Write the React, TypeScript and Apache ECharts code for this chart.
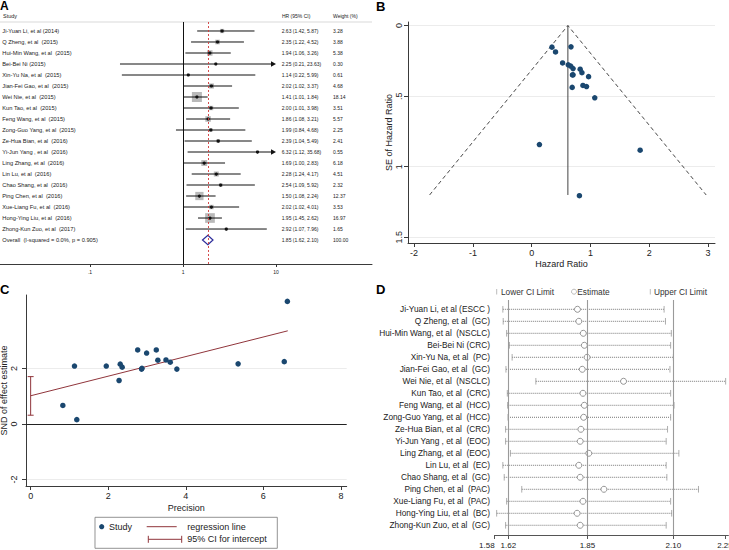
import React, { useEffect, useRef } from "react";
import * as echarts from "echarts";

const FONT = "'Liberation Sans', Arial, Helvetica, sans-serif";
const NAVY = "#1a476f";
const MAROON = "#90353b";
const INK = "#222";

// ---------- A: forest plot ----------
const forestStudies = [
  "Ji-Yuan Li, et al (2014)",
  "Q Zheng, et al  (2015)",
  "Hui-Min Wang, et al  (2015)",
  "Bei-Bei Ni (2015)",
  "Xin-Yu Na, et al  (2015)",
  "Jian-Fei Gao, et al  (2015)",
  "Wei Nie, et al  (2015)",
  "Kun Tao, et al  (2015)",
  "Feng Wang, et al  (2015)",
  "Zong-Guo Yang, et al  (2015)",
  "Ze-Hua Bian, et al  (2016)",
  "Yi-Jun Yang , et al  (2016)",
  "Ling Zhang, et al  (2016)",
  "Lin Lu, et al  (2016)",
  "Chao Shang, et al  (2016)",
  "Ping Chen, et al  (2016)",
  "Xue-Liang Fu, et al  (2016)",
  "Hong-Ying Liu, et al  (2016)",
  "Zhong-Kun Zuo, et al  (2017)",
];
const forestHR = [2.63, 2.35, 1.94, 2.25, 1.14, 2.02, 1.41, 2.0, 1.86, 1.99, 2.39, 6.32, 1.69, 2.28, 2.54, 1.5, 2.02, 1.95, 2.92];
const forestLow = [1.42, 1.22, 1.06, 0.21, 0.22, 1.02, 1.01, 1.01, 1.08, 0.84, 1.04, 1.12, 1.0, 1.24, 1.09, 1.08, 1.02, 1.45, 1.07];
const forestHigh = [5.87, 4.52, 3.26, 23.63, 5.99, 3.37, 1.84, 3.98, 3.21, 4.68, 5.49, 35.68, 2.83, 4.17, 5.92, 2.24, 4.01, 2.62, 7.96];
const forestWeight = [3.28, 3.88, 5.38, 0.3, 0.61, 4.68, 18.14, 3.51, 5.57, 2.25, 2.41, 0.55, 6.18, 4.51, 2.32, 12.37, 3.53, 16.97, 1.65];
const overallLabel = "Overall  (I-squared = 0.0%, p = 0.905)";
const overallHR = 1.85;
const overallLow = 1.62;
const overallHigh = 2.1;
const overallWeight = 100;
const forestTickValues = [0.1, 1, 10];
const forestTickLabels = [".1", "1", "10"];
const forestClip = 10;

// ---------- B: funnel plot ----------
const funnelLogHR = [0.967, 0.854, 0.663, 0.811, 0.131, 0.703, 0.344, 0.693, 0.621, 0.688, 0.871, 1.844, 0.525, 0.824, 0.932, 0.405, 0.703, 0.668, 1.072];
const funnelSE = [0.362, 0.334, 0.287, 1.205, 0.843, 0.305, 0.153, 0.35, 0.278, 0.438, 0.424, 0.883, 0.265, 0.309, 0.432, 0.187, 0.349, 0.151, 0.512];
const funnelPooled = [[0.615, 0], [0.615, 1.2]];
const funnelLimits = [[-1.737, 1.2], [0.615, 0], [2.967, 1.2]];
const funnelSETicks = [0, 0.5, 1, 1.5];
const funnelSELabels = ["0", ".5", "1", "1.5"];
const funnelHRTicks = [-2, -1, 0, 1, 2, 3];

// ---------- C: Egger / Galbraith ----------
const eggerPrecision = [2.76, 2.99, 3.49, 0.83, 1.19, 3.28, 6.54, 2.86, 3.6, 2.28, 2.36, 1.13, 3.77, 3.24, 2.31, 5.35, 2.87, 6.62, 1.95];
const eggerSND = [2.67, 2.56, 2.31, 0.67, 0.16, 2.3, 2.25, 1.98, 2.23, 1.57, 2.05, 2.09, 1.98, 2.67, 2.16, 2.17, 2.01, 4.42, 2.09];
const eggerFit = [[0, 1.02], [6.63, 3.36]];
const eggerInterceptCI = [0.32, 1.71];
const eggerXTicks = [0, 2, 4, 6, 8];
const eggerYTicks = [-2, 0, 2];

// ---------- D: leave-one-out sensitivity ----------
const sensStudies = [
  "Ji-Yuan Li, et al (ESCC )",
  "Q Zheng, et al  (GC)",
  "Hui-Min Wang, et al  (NSCLC)",
  "Bei-Bei Ni (CRC)",
  "Xin-Yu Na, et al  (PC)",
  "Jian-Fei Gao, et al  (GC)",
  "Wei Nie, et al  (NSCLC)",
  "Kun Tao, et al  (CRC)",
  "Feng Wang, et al  (HCC)",
  "Zong-Guo Yang, et al  (HCC)",
  "Ze-Hua Bian, et al  (CRC)",
  "Yi-Jun Yang , et al  (EOC)",
  "Ling Zhang, et al  (EOC)",
  "Lin Lu, et al  (EC)",
  "Chao Shang, et al  (GC)",
  "Ping Chen, et al  (PAC)",
  "Xue-Liang Fu, et al  (PAC)",
  "Hong-Ying Liu, et al  (BC)",
  "Zhong-Kun Zuo, et al  (GC)",
];
const sensLow = [1.604, 1.605, 1.615, 1.623, 1.631, 1.613, 1.7, 1.617, 1.618, 1.619, 1.612, 1.612, 1.626, 1.604, 1.608, 1.659, 1.615, 1.586, 1.612];
const sensEst = [1.821, 1.825, 1.838, 1.841, 1.849, 1.835, 1.955, 1.837, 1.841, 1.839, 1.831, 1.829, 1.854, 1.825, 1.829, 1.898, 1.837, 1.82, 1.829];
const sensHigh = [2.073, 2.077, 2.094, 2.092, 2.1, 2.09, 2.252, 2.092, 2.102, 2.092, 2.083, 2.079, 2.116, 2.079, 2.081, 2.173, 2.092, 2.095, 2.079];
const sensTicks = [1.58, 1.62, 1.85, 2.1, 2.25];
const sensRefLines = [1.62, 1.85, 2.1];

const log10 = Math.log10;
const pick = (ticks: number[], labels: string[], v: number) => {
  const i = ticks.findIndex((t) => Math.abs(t - v) < 1e-6);
  return i >= 0 ? labels[i] : "";
};
const fmtCI = (e: number, l: number, h: number) => `${e.toFixed(2)} (${l.toFixed(2)}, ${h.toFixed(2)})`;

function baseAxis(extra: any) {
  return {
    axisLine: { show: true, onZero: false, lineStyle: { color: "#3a3a3a", width: 1 } },
    axisTick: { show: true, length: 4, lineStyle: { color: "#3a3a3a", width: 1 } },
    splitLine: { show: false },
    ...extra,
  };
}

function buildOption(): any {
  const forestLabels = [...forestStudies, overallLabel];
  const forestCI = forestHR.map((h, i) => fmtCI(h, forestLow[i], forestHigh[i]));
  forestCI.push(fmtCI(overallHR, overallLow, overallHigh));
  const forestW = [...forestWeight, overallWeight].map((w) => w.toFixed(2));
  const forestRows = forestHR.map((h, i) => [log10(h), i, log10(forestLow[i]), log10(forestHigh[i]), forestWeight[i], 0]);
  forestRows.push([log10(overallHR), forestStudies.length, log10(overallLow), log10(overallHigh), overallWeight, 1]);
  const forestTickLogs = forestTickValues.map(log10);

  const txt = (text: string, x: number, y: number, size: number, extra: any = {}) => ({
    type: "text",
    style: { text, x, y, fill: INK, fontSize: size, fontFamily: FONT, align: "left", verticalAlign: "middle", ...extra },
  });

  const labelStyle = (size: number) => ({ fontSize: size, color: INK, fontFamily: FONT });
  const showAll = { showMinLabel: true, showMaxLabel: true, hideOverlap: false };

  // the first tick label of panel D sits right against the second one, so it
  // is carried by a companion axis and set flush left of its tick
  const sensFirstTick = sensTicks.slice(0, 1);
  const sensOtherTicks = sensTicks.slice(1);

  return {
    animation: false,
    backgroundColor: "#fff",
    textStyle: { fontFamily: FONT },
    grid: [
      { left: 0, top: 22, width: 372, height: 242, outerBoundsMode: "none" },
      { left: 408, top: 22, width: 307, height: 221, outerBoundsMode: "none" },
      { left: 26, top: 295, width: 320.7, height: 191, outerBoundsMode: "none" },
      { left: 494.6, top: 300, width: 233.8, height: 235, outerBoundsMode: "none" },
    ],
    xAxis: [
      baseAxis({
        gridIndex: 0,
        type: "value",
        min: -1.968,
        max: 2.032,
        axisTick: { show: true, length: 3, customValues: forestTickLogs, lineStyle: { color: "#333" } },
        axisLabel: {
          customValues: forestTickLogs,
          formatter: (v: number) => pick(forestTickLogs, forestTickLabels, v),
          margin: 5,
          ...showAll,
          ...labelStyle(5),
        },
      }),
      baseAxis({
        gridIndex: 1,
        type: "value",
        min: -2.104,
        max: 3.117,
        axisTick: { show: true, length: 4, customValues: funnelHRTicks, lineStyle: { color: "#3a3a3a" } },
        axisLabel: { customValues: funnelHRTicks, formatter: (v: number) => String(v), margin: 5, ...showAll, ...labelStyle(9) },
        name: "Hazard Ratio",
        nameLocation: "middle",
        nameGap: 16,
        nameTextStyle: labelStyle(9),
      }),
      baseAxis({
        gridIndex: 2,
        type: "value",
        min: -0.12,
        max: 8.15,
        axisTick: { show: true, length: 4, customValues: eggerXTicks, lineStyle: { color: "#3a3a3a" } },
        axisLabel: { customValues: eggerXTicks, formatter: (v: number) => String(v), margin: 5, ...showAll, ...labelStyle(9) },
        name: "Precision",
        nameLocation: "middle",
        nameGap: 17,
        nameTextStyle: labelStyle(9),
      }),
      baseAxis({
        gridIndex: 3,
        type: "value",
        position: "bottom",
        min: 1.58,
        max: 2.26,
        axisLine: { show: true, onZero: false, lineStyle: { color: "#555", width: 1 } },
        axisTick: { show: true, length: 4, customValues: sensTicks, lineStyle: { color: "#555" } },
        axisLabel: { customValues: sensOtherTicks, formatter: (v: number) => v.toFixed(2), margin: 6, ...showAll, ...labelStyle(8) },
      }),
      {
        gridIndex: 3,
        type: "value",
        position: "bottom",
        offset: 0,
        min: 1.58,
        max: 2.26,
        axisLine: { show: false, onZero: false },
        axisTick: { show: false, customValues: sensFirstTick },
        splitLine: { show: false },
        axisLabel: {
          customValues: sensFirstTick,
          formatter: (v: number) => v.toFixed(2),
          margin: 6,
          align: "right",
          ...showAll,
          ...labelStyle(8),
        },
      },
    ],
    yAxis: [
      { gridIndex: 0, type: "value", inverse: true, min: -0.818, max: 21.18, show: false },
      baseAxis({
        gridIndex: 1,
        type: "value",
        inverse: true,
        min: -0.025,
        max: 1.54,
        axisTick: { show: true, length: 4, customValues: funnelSETicks, lineStyle: { color: "#3a3a3a" } },
        axisLabel: {
          customValues: funnelSETicks,
          rotate: 90,
          formatter: (v: number) => pick(funnelSETicks, funnelSELabels, v),
          margin: 5,
          ...showAll,
          ...labelStyle(9),
        },
        splitLine: { show: true, lineStyle: { color: "#ececec", width: 1 } },
        name: "SE of Hazard Ratio",
        nameLocation: "middle",
        nameGap: 15,
        nameTextStyle: labelStyle(9),
      }),
      baseAxis({
        gridIndex: 2,
        type: "value",
        min: -2.23,
        max: 4.65,
        axisTick: { show: true, length: 4, customValues: eggerYTicks, lineStyle: { color: "#3a3a3a" } },
        axisLabel: { customValues: eggerYTicks, rotate: 90, formatter: (v: number) => String(v), margin: 8, ...showAll, ...labelStyle(9) },
        splitLine: { show: true, lineStyle: { color: "#ececec", width: 1 } },
        name: "SND of effect estimate",
        nameLocation: "middle",
        nameGap: 16,
        nameTextStyle: labelStyle(9),
      }),
      {
        gridIndex: 3,
        type: "value",
        inverse: true,
        min: -0.775,
        max: 18.81,
        axisLine: { show: false },
        axisTick: { show: false, customValues: sensStudies.map((_, i) => i) },
        splitLine: { show: false },
        axisLabel: {
          customValues: sensStudies.map((_, i) => i),
          formatter: (v: number) => sensStudies[Math.round(v)] ?? "",
          margin: 4.6,
          ...showAll,
          ...labelStyle(8.3),
        },
      },
    ],
    series: [
      // A: reference lines (null effect and pooled estimate)
      {
        type: "line",
        xAxisIndex: 0,
        yAxisIndex: 0,
        data: [],
        z: 1,
        markLine: {
          silent: true,
          symbol: "none",
          label: { show: false },
          data: [
            { xAxis: 0, lineStyle: { color: "#111", width: 1, type: "solid" } },
            { xAxis: log10(overallHR), lineStyle: { color: "#d03a3a", width: 0.9, type: [2, 2] } },
          ],
        },
      },
      // A: study rows
      {
        type: "custom",
        xAxisIndex: 0,
        yAxisIndex: 0,
        z: 3,
        data: forestRows,
        encode: { x: [0, 2, 3], y: 1 },
        renderItem: (params: any, api: any) => {
          const idx = params.dataIndex;
          const row = api.value(1);
          const y = api.coord([0, row])[1];
          const xEst = api.coord([api.value(0), row])[0];
          const xLo = api.coord([api.value(2), row])[0];
          const clipLog = log10(forestClip);
          const hiLog = api.value(3);
          const clipped = hiLog > clipLog;
          const xHi = api.coord([Math.min(hiLog, clipLog), row])[0];
          const left = params.coordSys.x;
          const children: any[] = [
            txt(forestLabels[idx], left + 2.3, y, 5.7),
            txt(forestCI[idx], left + 281.7, y, 5),
            txt(forestW[idx], left + 333, y, 5),
          ];
          if (api.value(5) === 1) {
            const h = 4.6;
            children.push({
              type: "polygon",
              shape: { points: [[xLo, y], [xEst, y - h], [xHi, y], [xEst, y + h]] },
              style: { fill: "#fff", stroke: "#2c2c9a", lineWidth: 1.2 },
            });
          } else {
            const side = 2.35 * Math.sqrt(api.value(4));
            children.push({
              type: "rect",
              shape: { x: xEst - side / 2, y: y - side / 2, width: side, height: side },
              style: { fill: "#b9b9b9" },
            });
            children.push({
              type: "line",
              shape: { x1: xLo, y1: y, x2: clipped ? xHi - 3 : xHi, y2: y },
              style: { stroke: "#111", lineWidth: 1 },
            });
            if (clipped) {
              children.push({
                type: "polygon",
                shape: { points: [[xHi, y], [xHi - 5, y - 2.8], [xHi - 5, y + 2.8]] },
                style: { fill: "#111" },
              });
            }
            children.push({ type: "circle", shape: { cx: xEst, cy: y, r: 1.6 }, style: { fill: "#111" } });
          }
          return { type: "group", children };
        },
      },
      // B: funnel limits and pooled estimate
      {
        type: "line",
        xAxisIndex: 1,
        yAxisIndex: 1,
        data: funnelLimits,
        symbol: "none",
        lineStyle: { color: "#333", width: 0.9, type: [4, 3] },
        z: 2,
      },
      {
        type: "line",
        xAxisIndex: 1,
        yAxisIndex: 1,
        data: funnelPooled,
        symbol: "none",
        lineStyle: { color: "#444", width: 1 },
        z: 2,
      },
      {
        type: "scatter",
        xAxisIndex: 1,
        yAxisIndex: 1,
        data: funnelLogHR.map((v, i) => [v, funnelSE[i]]),
        symbolSize: 5.5,
        itemStyle: { color: NAVY, opacity: 1 },
        z: 3,
      },
      // C: zero line, regression line, intercept CI, studies
      {
        type: "line",
        xAxisIndex: 2,
        yAxisIndex: 2,
        data: [],
        z: 1,
        markLine: {
          silent: true,
          symbol: "none",
          label: { show: false },
          data: [{ yAxis: 0, lineStyle: { color: "#222", width: 1, type: "solid" } }],
        },
      },
      {
        type: "line",
        xAxisIndex: 2,
        yAxisIndex: 2,
        data: eggerFit,
        symbol: "none",
        lineStyle: { color: MAROON, width: 1 },
        z: 2,
      },
      {
        type: "custom",
        xAxisIndex: 2,
        yAxisIndex: 2,
        data: [[0, eggerInterceptCI[0], eggerInterceptCI[1]]],
        encode: { x: 0, y: [1, 2] },
        z: 2,
        renderItem: (_params: any, api: any) => {
          const [x, yLo] = api.coord([api.value(0), api.value(1)]);
          const yHi = api.coord([api.value(0), api.value(2)])[1];
          const st = { stroke: MAROON, lineWidth: 1 };
          return {
            type: "group",
            children: [
              { type: "line", shape: { x1: x, y1: yLo, x2: x, y2: yHi }, style: st },
              { type: "line", shape: { x1: x - 3, y1: yLo, x2: x + 3, y2: yLo }, style: st },
              { type: "line", shape: { x1: x - 3, y1: yHi, x2: x + 3, y2: yHi }, style: st },
            ],
          };
        },
      },
      {
        type: "scatter",
        xAxisIndex: 2,
        yAxisIndex: 2,
        data: eggerPrecision.map((p, i) => [p, eggerSND[i]]),
        symbolSize: 5.5,
        itemStyle: { color: NAVY, opacity: 1 },
        z: 3,
      },
      // D: reference lines and leave-one-out intervals
      {
        type: "line",
        xAxisIndex: 3,
        yAxisIndex: 3,
        data: [],
        z: 1,
        markLine: {
          silent: true,
          symbol: "none",
          label: { show: false },
          data: sensRefLines.map((v) => ({ xAxis: v })),
          lineStyle: { color: "#9a9a9a", width: 1.1, type: "solid" },
        },
      },
      {
        type: "custom",
        xAxisIndex: 3,
        yAxisIndex: 3,
        z: 3,
        data: sensEst.map((e, i) => [e, i, sensLow[i], sensHigh[i]]),
        encode: { x: [0, 2, 3], y: 1 },
        renderItem: (_params: any, api: any) => {
          const row = api.value(1);
          const [xe, y] = api.coord([api.value(0), row]);
          const xl = api.coord([api.value(2), row])[0];
          const xh = api.coord([api.value(3), row])[0];
          const cap = { stroke: "#999", lineWidth: 0.8 };
          return {
            type: "group",
            children: [
              { type: "line", shape: { x1: xl, y1: y, x2: xh, y2: y }, style: { stroke: "#777", lineWidth: 1, lineDash: [1, 1] } },
              { type: "line", shape: { x1: xl, y1: y - 3.3, x2: xl, y2: y + 3.3 }, style: cap },
              { type: "line", shape: { x1: xh, y1: y - 3.3, x2: xh, y2: y + 3.3 }, style: cap },
              { type: "circle", shape: { cx: xe, cy: y, r: 3 }, style: { fill: "#fff", stroke: "#888", lineWidth: 0.9 } },
            ],
          };
        },
      },
    ],
    graphic: [
      // panel letters
      { type: "text", x: 0, y: 0, style: { text: "A", fontSize: 12, fontWeight: "bold", fill: "#000", fontFamily: FONT } },
      { type: "text", x: 376, y: 0, style: { text: "B", fontSize: 13, fontWeight: "bold", fill: "#000", fontFamily: FONT } },
      { type: "text", x: 0, y: 283, style: { text: "C", fontSize: 13, fontWeight: "bold", fill: "#000", fontFamily: FONT } },
      { type: "text", x: 376, y: 283, style: { text: "D", fontSize: 13, fontWeight: "bold", fill: "#000", fontFamily: FONT } },
      // A header
      txt("Study", 3, 15.7, 5.5),
      txt("HR (95% CI)", 282, 15.7, 5),
      txt("Weight (%)", 333, 15.7, 5),
      { type: "line", shape: { x1: 0, y1: 22, x2: 372, y2: 22 }, style: { stroke: "#cfcfcf", lineWidth: 0.8 } },
      // C legend
      { type: "rect", shape: { x: 95, y: 517.3, width: 182.3, height: 31 }, style: { fill: "#fff", stroke: "#777", lineWidth: 0.8 } },
      { type: "circle", shape: { cx: 101.7, cy: 526.7, r: 2.6 }, style: { fill: NAVY } },
      txt("Study", 109, 526.7, 9),
      { type: "line", shape: { x1: 146.7, y1: 526.7, x2: 176.7, y2: 526.7 }, style: { stroke: MAROON, lineWidth: 1 } },
      txt("regression line", 187.3, 526.7, 9),
      { type: "line", shape: { x1: 148.3, y1: 539.3, x2: 181.7, y2: 539.3 }, style: { stroke: MAROON, lineWidth: 1 } },
      { type: "line", shape: { x1: 148.3, y1: 535.8, x2: 148.3, y2: 542.8 }, style: { stroke: MAROON, lineWidth: 1 } },
      { type: "line", shape: { x1: 181.7, y1: 535.8, x2: 181.7, y2: 542.8 }, style: { stroke: MAROON, lineWidth: 1 } },
      txt("95% CI for intercept", 187.3, 539.3, 9),
      // D legend
      { type: "line", shape: { x1: 496.7, y1: 289, x2: 496.7, y2: 294.5 }, style: { stroke: "#aaa", lineWidth: 0.8 } },
      txt("Lower CI Limit", 501, 291.7, 8.3, { fill: "#333" }),
      { type: "circle", shape: { cx: 574, cy: 291.7, r: 2.5 }, style: { fill: "#fff", stroke: "#aaa", lineWidth: 0.8 } },
      txt("Estimate", 577.3, 291.7, 8.3, { fill: "#333" }),
      { type: "line", shape: { x1: 650.3, y1: 289, x2: 650.3, y2: 294.5 }, style: { stroke: "#aaa", lineWidth: 0.8 } },
      txt("Upper CI Limit", 654, 291.7, 8.3, { fill: "#333" }),
    ],
  };
}

export default function App() {
  const ref = useRef<HTMLDivElement>(null);
  useEffect(() => {
    if (!ref.current) return;
    const chart = echarts.init(ref.current, null, { renderer: "svg" });
    chart.setOption(buildOption());
    return () => chart.dispose();
  }, []);
  return (
    <div
      ref={ref}
      style={{ position: "fixed", left: 0, top: 0, width: 729, height: 550, background: "#fff" }}
    />
  );
}
